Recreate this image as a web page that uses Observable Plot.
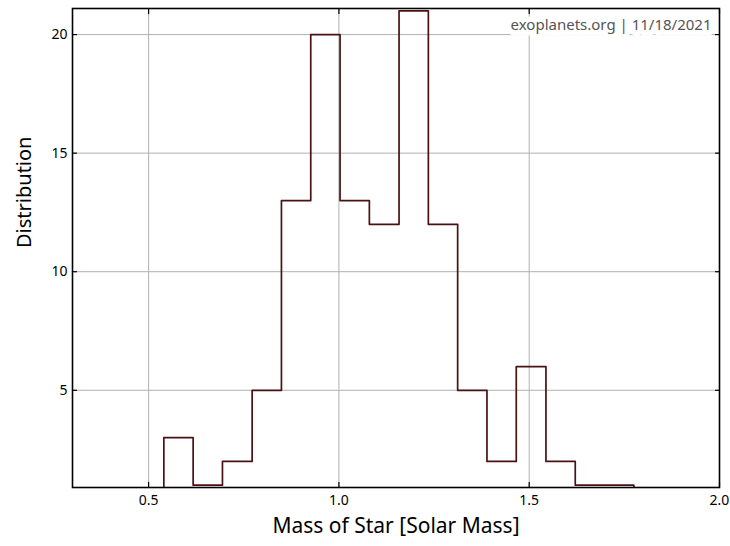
<!DOCTYPE html>
<html>
<head>
<meta charset="utf-8">
<script src="https://cdn.jsdelivr.net/npm/d3@7"></script>
<script src="https://cdn.jsdelivr.net/npm/@observablehq/plot@0.6"></script>
<style>
  html, body { margin: 0; padding: 0; background: #fff; }
  #chart svg { display: block; }
</style>
</head>
<body>
<div id="chart"></div>
<script>
// Histogram bin edges (solar masses) and counts
const binEdges = [0.540, 0.617, 0.694, 0.772, 0.849, 0.926, 1.003, 1.080, 1.158,
                  1.235, 1.312, 1.389, 1.466, 1.544, 1.621, 1.698, 1.775];
const binCounts = [3, 1, 2, 5, 13, 20, 13, 12, 21, 12, 5, 2, 6, 2, 1, 1];
const xTicks = [0.5, 1.0, 1.5, 2.0];
const yTicks = [5, 10, 15, 20];
const xDomain = [0.3, 2.0];
const yDomain = [0.9, 21.1];
const xLabel = "Mass of Star [Solar Mass]";
const yLabel = "Distribution";
const credit = "exoplanets.org | 11/18/2021";

// Step outline of the histogram (histtype = step)
const outline = [{x: binEdges[0], y: 0}];
binCounts.forEach((c, i) => outline.push({x: binEdges[i], y: c}));
outline.push({x: binEdges[binEdges.length - 1], y: binCounts[binCounts.length - 1]});
outline.push({x: binEdges[binEdges.length - 1], y: 0});

const font = "'Noto Sans', sans-serif";
const noText = () => "";

const chart = Plot.plot({
  width: 730,
  height: 546,
  marginLeft: 72,
  marginRight: 11,
  marginTop: 8,
  marginBottom: 59,
  style: {fontFamily: font, fontSize: "14px", color: "#000", background: "#fff"},
  x: {domain: xDomain, label: null},
  y: {domain: yDomain, label: null},
  marks: [
    Plot.gridX(xTicks, {stroke: "#b0b0b0", strokeOpacity: 1, strokeWidth: 1}),
    Plot.gridY(yTicks, {stroke: "#b0b0b0", strokeOpacity: 1, strokeWidth: 1}),
    Plot.line(outline, {x: "x", y: "y", curve: "step-after", stroke: "#4a1212", strokeWidth: 1.7, clip: true}),
    // credit annotation with white background
    Plot.text([credit], {text: d => d, frameAnchor: "top-right", textAnchor: "end", lineAnchor: "middle",
      dx: -8, dy: 17, fontSize: 15, fill: "#555", stroke: "white", strokeWidth: 11, strokeLinejoin: "round"}),
    // tick labels
    Plot.axisX({ticks: xTicks, tickSize: 0, tickPadding: 8, tickFormat: d3.format(".1f"), label: null, fontSize: 14}),
    Plot.axisY({ticks: yTicks, tickSize: 0, tickPadding: 5, label: null, fontSize: 14}),
    // inward tick marks on all four sides
    Plot.axisX({ticks: xTicks, anchor: "bottom", tickSize: 5, dy: -5, tickFormat: noText, label: null, strokeWidth: 1.2}),
    Plot.axisX({ticks: xTicks, anchor: "top", tickSize: 5, dy: 5, tickFormat: noText, label: null, strokeWidth: 1.2}),
    Plot.axisY({ticks: yTicks, anchor: "left", tickSize: 5, dx: 5, tickFormat: noText, label: null, strokeWidth: 1.2}),
    Plot.axisY({ticks: yTicks, anchor: "right", tickSize: 5, dx: -5, tickFormat: noText, label: null, strokeWidth: 1.2}),
    Plot.frame({stroke: "#000", strokeWidth: 1.6}),
    // axis titles
    Plot.text([xLabel], {text: d => d, frameAnchor: "bottom", lineAnchor: "middle", dy: 39, fontSize: 21, fill: "#000"}),
    Plot.text([yLabel], {text: d => d, frameAnchor: "left", lineAnchor: "middle", rotate: -90, dx: -48, fontSize: 20, fill: "#000"})
  ]
});
document.getElementById("chart").appendChild(chart);
</script>
</body>
</html>
